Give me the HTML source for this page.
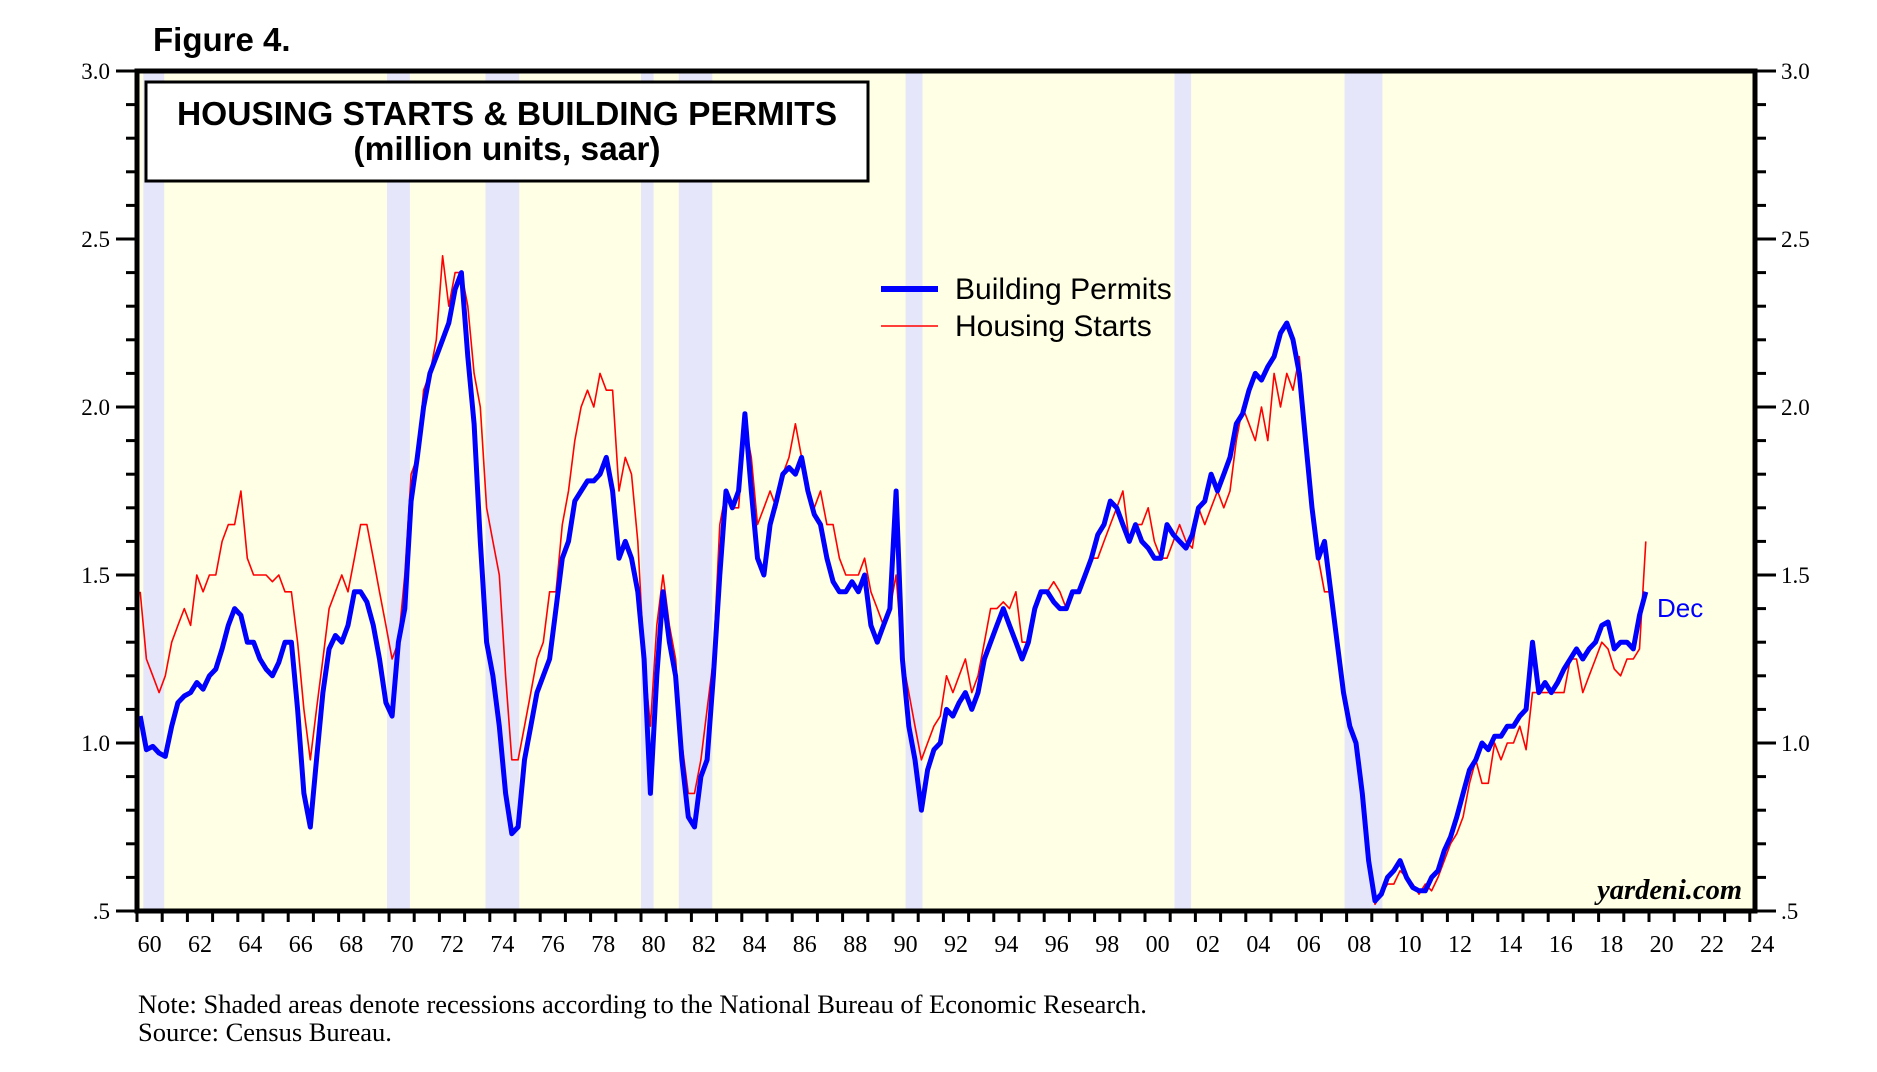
<!DOCTYPE html>
<html><head><meta charset="utf-8"><style>
html,body{margin:0;padding:0;background:#fff;width:1877px;height:1072px;overflow:hidden}
svg{display:block}
</style></head><body>
<svg id="chart" width="1877" height="1072" xmlns="http://www.w3.org/2000/svg">
<text x="153" y="51" font-family="Liberation Sans, sans-serif" font-weight="bold" font-size="33">Figure 4.</text>
<rect x="137" y="71" width="1618" height="840" fill="#FFFFE6"/>
<g id="rec"></g>
<g id="series"></g>
<rect x="137" y="71" width="1618" height="840" fill="none" stroke="#000" stroke-width="5"/>
<g id="axes"></g>
<g>
<rect x="146" y="82" width="722" height="99" fill="#fff" stroke="#000" stroke-width="3"/>
<text x="507" y="125" text-anchor="middle" font-family="Liberation Sans, sans-serif" font-weight="bold" font-size="33.5">HOUSING STARTS &amp; BUILDING PERMITS</text>
<text x="507" y="160" text-anchor="middle" font-family="Liberation Sans, sans-serif" font-weight="bold" font-size="33.5">(million units, saar)</text>
</g>
<g>
<line x1="881" y1="289" x2="938" y2="289" stroke="#0000FF" stroke-width="6"/>
<text x="955" y="299" font-family="Liberation Sans, sans-serif" font-size="30">Building Permits</text>
<line x1="881" y1="326" x2="938" y2="326" stroke="#FF0000" stroke-width="1.5"/>
<text x="955" y="336" font-family="Liberation Sans, sans-serif" font-size="30">Housing Starts</text>
</g>
<text x="1657" y="617" fill="#0000FF" font-family="Liberation Sans, sans-serif" font-size="26">Dec</text>
<text x="1742" y="899" text-anchor="end" font-family="Liberation Serif, serif" font-weight="bold" font-style="italic" font-size="28.5">yardeni.com</text>
<text x="138" y="1013" font-family="Liberation Serif, serif" font-size="26.5">Note: Shaded areas denote recessions according to the National Bureau of Economic Research.</text>
<text x="138" y="1041" font-family="Liberation Serif, serif" font-size="26.5">Source: Census Bureau.</text>
</svg>
<script>
const recessions=[[1960.25,1961.08],[1969.92,1970.83],[1973.83,1975.17],[1980.0,1980.5],[1981.5,1982.83],[1990.5,1991.17],[2001.17,2001.83],[2007.92,2009.42]];
const yTicks=[0.5,1.0,1.5,2.0,2.5,3.0];
const yTickLabels=[".5","1.0","1.5","2.0","2.5","3.0"];
const xYears=[60,62,64,66,68,70,72,74,76,78,80,82,84,86,88,90,92,94,96,98,0,2,4,6,8,10,12,14,16,18,20,22,24];
const permits=[1.08,0.98,0.99,0.97,0.96,1.05,1.12,1.14,1.15,1.18,1.16,1.20,1.22,1.28,1.35,1.40,1.38,1.30,1.30,1.25,1.22,1.20,1.24,1.30,1.30,1.10,0.85,0.75,0.95,1.15,1.28,1.32,1.30,1.35,1.45,1.45,1.42,1.35,1.25,1.12,1.08,1.30,1.40,1.72,1.85,2.00,2.10,2.15,2.20,2.25,2.35,2.40,2.15,1.95,1.60,1.30,1.20,1.05,0.85,0.73,0.75,0.95,1.05,1.15,1.20,1.25,1.40,1.55,1.60,1.72,1.75,1.78,1.78,1.80,1.85,1.75,1.55,1.60,1.55,1.45,1.25,0.85,1.20,1.45,1.30,1.20,0.95,0.78,0.75,0.90,0.95,1.20,1.50,1.75,1.70,1.75,1.98,1.75,1.55,1.50,1.65,1.72,1.80,1.82,1.80,1.85,1.75,1.68,1.65,1.55,1.48,1.45,1.45,1.48,1.45,1.50,1.35,1.30,1.35,1.40,1.75,1.25,1.05,0.95,0.80,0.92,0.98,1.00,1.10,1.08,1.12,1.15,1.10,1.15,1.25,1.30,1.35,1.40,1.35,1.30,1.25,1.30,1.40,1.45,1.45,1.42,1.40,1.40,1.45,1.45,1.50,1.55,1.62,1.65,1.72,1.70,1.65,1.60,1.65,1.60,1.58,1.55,1.55,1.65,1.62,1.60,1.58,1.62,1.70,1.72,1.80,1.75,1.80,1.85,1.95,1.98,2.05,2.10,2.08,2.12,2.15,2.22,2.25,2.20,2.10,1.90,1.70,1.55,1.60,1.45,1.30,1.15,1.05,1.00,0.85,0.65,0.53,0.55,0.60,0.62,0.65,0.60,0.57,0.56,0.56,0.60,0.62,0.68,0.72,0.78,0.85,0.92,0.95,1.00,0.98,1.02,1.02,1.05,1.05,1.08,1.10,1.30,1.15,1.18,1.15,1.18,1.22,1.25,1.28,1.25,1.28,1.30,1.35,1.36,1.28,1.30,1.30,1.28,1.38,1.45];
const starts=[1.45,1.25,1.20,1.15,1.20,1.30,1.35,1.40,1.35,1.50,1.45,1.50,1.50,1.60,1.65,1.65,1.75,1.55,1.50,1.50,1.50,1.48,1.50,1.45,1.45,1.30,1.10,0.95,1.10,1.25,1.40,1.45,1.50,1.45,1.55,1.65,1.65,1.55,1.45,1.35,1.25,1.30,1.50,1.80,1.85,2.05,2.10,2.20,2.45,2.30,2.40,2.40,2.30,2.10,2.00,1.70,1.60,1.50,1.20,0.95,0.95,1.05,1.15,1.25,1.30,1.45,1.45,1.65,1.75,1.90,2.00,2.05,2.00,2.10,2.05,2.05,1.75,1.85,1.80,1.60,1.25,1.05,1.35,1.50,1.35,1.25,1.00,0.85,0.85,0.95,1.10,1.25,1.65,1.75,1.70,1.70,1.95,1.85,1.65,1.70,1.75,1.70,1.80,1.85,1.95,1.85,1.75,1.70,1.75,1.65,1.65,1.55,1.50,1.50,1.50,1.55,1.45,1.40,1.35,1.40,1.50,1.25,1.15,1.05,0.95,1.00,1.05,1.08,1.20,1.15,1.20,1.25,1.15,1.20,1.30,1.40,1.40,1.42,1.40,1.45,1.30,1.30,1.40,1.45,1.45,1.48,1.45,1.40,1.45,1.45,1.50,1.55,1.55,1.60,1.65,1.70,1.75,1.60,1.65,1.65,1.70,1.60,1.55,1.55,1.60,1.65,1.60,1.58,1.70,1.65,1.70,1.75,1.70,1.75,1.90,2.00,1.95,1.90,2.00,1.90,2.10,2.00,2.10,2.05,2.15,1.90,1.70,1.55,1.45,1.45,1.30,1.15,1.05,1.00,0.85,0.65,0.52,0.55,0.58,0.58,0.62,0.60,0.58,0.55,0.58,0.56,0.60,0.65,0.70,0.73,0.78,0.88,0.95,0.88,0.88,1.00,0.95,1.00,1.00,1.05,0.98,1.15,1.15,1.15,1.15,1.15,1.15,1.25,1.25,1.15,1.20,1.25,1.30,1.28,1.22,1.20,1.25,1.25,1.28,1.60];

const NS='http://www.w3.org/2000/svg';
function xs(yr){return 137+(yr-1960)*25.2;}
function ys(v){return 911-(v-0.5)*336;}
function mk(tag,attrs,parent){const e=document.createElementNS(NS,tag);for(const k in attrs)e.setAttribute(k,attrs[k]);parent.appendChild(e);return e;}

const rec=document.getElementById('rec');
recessions.forEach(r=>{
  const e=mk('rect',{x:xs(r[0]),y:71,width:xs(r[1])-xs(r[0]),height:840,fill:'#E6E6FA'},rec);
  
  
});

const ser=document.getElementById('series');
function line(arr,color,w,name){
  const pts=arr.map((v,i)=>xs(1960+i*0.25+0.125).toFixed(1)+','+ys(v).toFixed(1)).join(' ');
  const e=mk('polyline',{points:pts,fill:'none',stroke:color,'stroke-width':w,'stroke-linejoin':'round'},ser);
  
  
}
line(starts,'#FF0000',1.6,'housing-starts-line');
line(permits,'#0000FF',5,'building-permits-line');

const ax=document.getElementById('axes');
for(let k=0;k<=25;k++){
  const v=0.5+k*0.1, y=ys(v), major=(k%5===0);
  mk('line',{x1:major?116:126,y1:y,x2:137,y2:y,stroke:'#000','stroke-width':3},ax);
  mk('line',{x1:1755,y1:y,x2:major?1776:1766,y2:y,stroke:'#000','stroke-width':3},ax);
}
yTicks.forEach((v,i)=>{
  const a=mk('text',{x:110,y:ys(v)+8,'text-anchor':'end','font-family':'Liberation Serif, serif','font-size':23},ax);
  a.textContent=yTickLabels[i];
  
  
  const b=mk('text',{x:1781,y:ys(v)+8,'font-family':'Liberation Serif, serif','font-size':23},ax);
  b.textContent=yTickLabels[i];
  
  
});
for(let yr=1960;yr<=2024;yr++){
  mk('line',{x1:xs(yr),y1:911,x2:xs(yr),y2:922,stroke:'#000','stroke-width':3},ax);
}
xYears.forEach(y2=>{
  const full=y2>=50?1900+y2:2000+y2;
  const t=mk('text',{x:xs(full+0.5),y:952,'text-anchor':'middle','font-family':'Liberation Serif, serif','font-size':24},ax);
  t.textContent=String(y2).padStart(2,'0');
  
  
});
</script>
</body></html>
